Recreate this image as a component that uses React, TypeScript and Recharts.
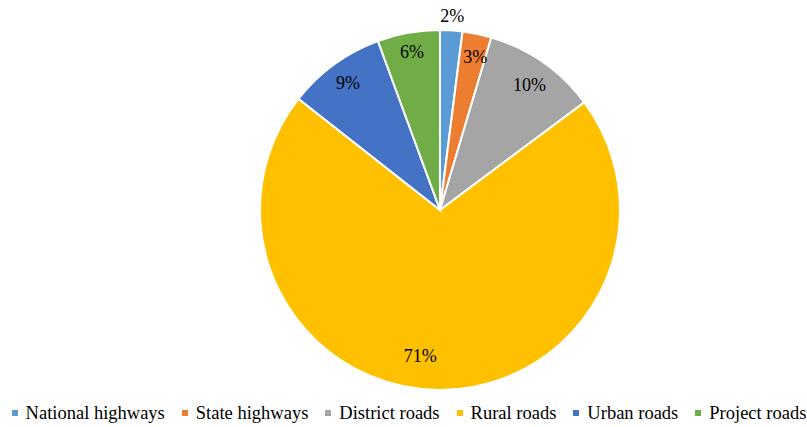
import { PieChart, Pie, Cell, Legend } from 'recharts';

const categories = ['National highways', 'State highways', 'District roads', 'Rural roads', 'Urban roads', 'Project roads'];
const shares = [2.0, 2.6, 10.2, 70.8, 8.8, 5.6];
const labels = ['2%', '3%', '10%', '71%', '9%', '6%'];

const COLORS = ['#5B9BD5', '#ED7D31', '#A5A5A5', '#FFC000', '#4472C4', '#70AD47'];
// label placement: share of the radius, plus a small sideways nudge
const LABEL_RADIUS = [1.08, 0.87, 0.85, 0.81, 0.87, 0.89];
const LABEL_DX = [0, 3, 2, -18, 0, 0];

const FONT = 'Liberation Serif, DejaVu Serif, serif';
const RAD = Math.PI / 180;

const data = categories.map((name, i) => ({ name, value: shares[i], label: labels[i] }));

const renderLabel = (props: any) => {
  const { cx, cy, midAngle, outerRadius, index } = props;
  const r = outerRadius * LABEL_RADIUS[index];
  const x = cx + r * Math.cos(-midAngle * RAD) + LABEL_DX[index];
  const y = cy + r * Math.sin(-midAngle * RAD);
  return (
    <text x={x} y={y} textAnchor="middle" dominantBaseline="central" fill="#000" fontSize={18} fontFamily={FONT}>
      {labels[index]}
    </text>
  );
};

const renderLegend = () => (
  <div
    style={{
      display: 'flex',
      justifyContent: 'center',
      gap: 17,
      paddingLeft: 11,
      fontFamily: FONT,
      fontSize: 18.5,
      color: '#000',
      lineHeight: '20px',
      whiteSpace: 'nowrap',
    }}
  >
    {categories.map((c, i) => (
      <span key={c} style={{ display: 'inline-flex', alignItems: 'center', flexShrink: 0 }}>
        <span style={{ width: 6, height: 6, background: COLORS[i], marginRight: 8, display: 'inline-block' }} />
        {c}
      </span>
    ))}
  </div>
);

export default function App() {
  return (
    <div style={{ position: 'absolute', left: 0, top: 0, background: '#fff' }}>
      <PieChart width={807} height={427}>
        <Pie
          data={data}
          dataKey="value"
          nameKey="name"
          cx={435}
          cy={205}
          outerRadius={180}
          startAngle={90}
          endAngle={-270}
          stroke="#fff"
          strokeWidth={2}
          label={renderLabel}
          labelLine={false}
          isAnimationActive={false}
        >
          {data.map((d, i) => (
            <Cell key={d.name} fill={COLORS[i]} />
          ))}
        </Pie>
        <Legend verticalAlign="bottom" content={renderLegend} wrapperStyle={{ bottom: 4, left: 0, width: 807 }} />
      </PieChart>
    </div>
  );
}
